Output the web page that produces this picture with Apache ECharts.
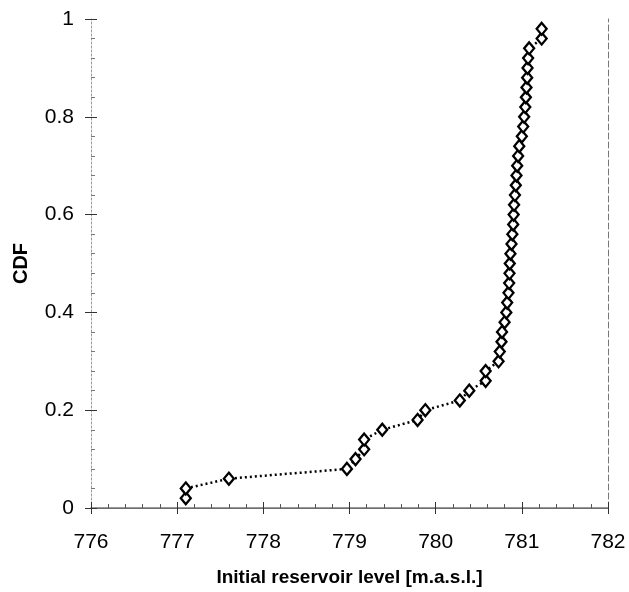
<!DOCTYPE html>
<html>
<head>
<meta charset="utf-8">
<script src="https://cdn.jsdelivr.net/npm/echarts@6/dist/echarts.min.js"></script>
<style>
  html, body { margin: 0; padding: 0; background: #fff; }
  #chart { width: 629px; height: 592px; }
</style>
</head>
<body>
<div id="chart"></div>
<script>
// Empirical CDF of the initial reservoir level
const levels = [
  777.10, 777.10, 777.60, 778.97, 779.07, 779.17, 779.17, 779.38, 779.79, 779.88,
  780.28, 780.39, 780.58, 780.58, 780.73, 780.744, 780.764, 780.77, 780.80, 780.82,
  780.83, 780.845, 780.853, 780.857, 780.86, 780.868, 780.88, 780.89, 780.90, 780.905,
  780.91, 780.92, 780.93, 780.938, 780.946, 780.957, 780.97, 781.00, 781.016, 781.027,
  781.04, 781.047, 781.054, 781.062, 781.066, 781.073, 781.085, 781.23, 781.23
];
const cdf = [
  0.02, 0.04, 0.06, 0.08, 0.10, 0.12, 0.14, 0.16, 0.18, 0.20,
  0.22, 0.24, 0.26, 0.28, 0.30, 0.32, 0.34, 0.36, 0.38, 0.40,
  0.42, 0.44, 0.46, 0.48, 0.50, 0.52, 0.54, 0.56, 0.58, 0.60,
  0.62, 0.64, 0.66, 0.68, 0.70, 0.72, 0.74, 0.76, 0.78, 0.80,
  0.82, 0.84, 0.86, 0.88, 0.90, 0.92, 0.94, 0.96, 0.98
];
const xTicks = [776, 777, 778, 779, 780, 781, 782];
const yTicks = [0, 0.2, 0.4, 0.6, 0.8, 1];

const FONT = 'Liberation Sans, Arial, sans-serif';
const points = levels.map((v, i) => [v, cdf[i]]);

const chart = echarts.init(document.getElementById('chart'), null, { renderer: 'canvas' });

const xMin = xTicks[0], xMax = xTicks[xTicks.length - 1];
const yMin = yTicks[0], yMax = yTicks[yTicks.length - 1];

chart.setOption({
  animation: false,
  backgroundColor: '#ffffff',
  grid: { left: 91, right: 21, top: 19, bottom: 82, containLabel: false },
  xAxis: [
    {
      type: 'value', min: xMin, max: xMax, interval: 1, position: 'bottom',
      name: 'Initial reservoir level [m.a.s.l.]', nameLocation: 'middle', nameGap: 60,
      nameTextStyle: { fontFamily: FONT, fontWeight: 'bold', fontSize: 19, color: '#000' },
      axisLine: { show: true, lineStyle: { color: '#555', width: 1 } },
      axisTick: { show: true, inside: false, length: 6, lineStyle: { color: '#333' } },
      minorTick: { show: false },
      axisLabel: { fontFamily: FONT, fontSize: 21, color: '#000', margin: 24 },
      splitLine: { show: false }
    },
    {
      // inner half of the crossing ticks plus minor ticks
      type: 'value', min: xMin, max: xMax, interval: 1, position: 'bottom',
      axisLine: { show: false },
      axisTick: { show: true, inside: true, length: 6, lineStyle: { color: '#333' } },
      minorTick: { show: true, splitNumber: 5, length: 4, lineStyle: { color: '#555' } },
      axisLabel: { show: false },
      splitLine: { show: false }
    },
    {
      // top frame
      type: 'value', min: xMin, max: xMax, position: 'top',
      axisLine: { show: true, lineStyle: { color: '#777', width: 1.5 } },
      axisTick: { show: false }, axisLabel: { show: false }, splitLine: { show: false }
    }
  ],
  yAxis: [
    {
      type: 'value', min: yMin, max: yMax, interval: 0.2, position: 'left',
      name: 'CDF', nameLocation: 'middle', nameGap: 60, nameRotate: 90,
      nameTextStyle: { fontFamily: FONT, fontWeight: 'bold', fontSize: 20, color: '#000' },
      axisLine: { show: true, lineStyle: { color: '#999', width: 1, type: [2, 2] } },
      axisTick: { show: true, inside: false, length: 6, lineStyle: { color: '#333' } },
      axisLabel: { fontFamily: FONT, fontSize: 21, color: '#000', margin: 17 },
      splitLine: { show: false }
    },
    {
      type: 'value', min: yMin, max: yMax, interval: 0.2, position: 'left',
      axisLine: { show: false },
      axisTick: { show: true, inside: true, length: 6, lineStyle: { color: '#333' } },
      minorTick: { show: true, splitNumber: 5, length: 4, lineStyle: { color: '#777' } },
      axisLabel: { show: false },
      splitLine: { show: false }
    },
    {
      // right frame
      type: 'value', min: yMin, max: yMax, position: 'right',
      axisLine: { show: true, lineStyle: { color: '#777', width: 1, type: [6, 3] } },
      axisTick: { show: false }, axisLabel: { show: false }, splitLine: { show: false }
    }
  ],
  series: [
    {
      type: 'line',
      data: points,
      xAxisIndex: 0, yAxisIndex: 0,
      symbol: 'diamond',
      symbolSize: [10, 12],
      showAllSymbol: true,
      lineStyle: { color: '#000', width: 2.5, type: [2, 3] },
      itemStyle: { color: '#ffffff', borderColor: '#000000', borderWidth: 2.3 },
      z: 5
    }
  ]
});
</script>
</body>
</html>
